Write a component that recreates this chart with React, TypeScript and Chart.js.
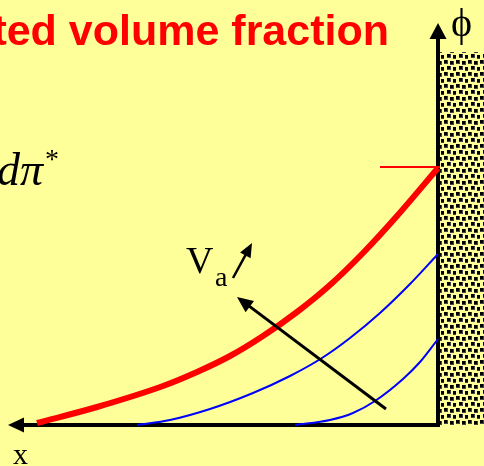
import React, { useEffect, useRef } from "react";
import { Chart, registerables } from "chart.js";

Chart.register(...registerables);

// Horizontal coordinate: distance from the wall; vertical: volume fraction φ.
const redCurveX = [401, 341, 275, 241, 208, 175, 141, 108, 75, 41, 0];
const redCurveY = [2, 18, 39, 53, 69, 89, 113, 140, 172, 209, 257];
const blueCurve1X = [301, 268, 228, 185, 148, 116, 88, 58, 28, 0];
const blueCurve1Y = [0, 5, 16, 32, 49, 67, 87, 112, 141, 171];
const blueCurve2X = [143, 108, 85, 63, 35, 18, 0];
const blueCurve2Y = [0, 5, 12, 24, 46, 63, 86];
const interfaceX = [58, -46];
const interfaceY = [258, 258];
const wallX = [-2, -46];
const wallY = [373, 373];
const axisX = [430, 0, 0]; // x-axis tip, origin, y-axis tip
const axisY = [0, 0, 402];
const flowArrowX = [52, 201]; // tail, tip
const flowArrowY = [16, 128];
const speedArrowX = [205, 186];
const speedArrowY = [147, 182];

const titleText = "Integrated volume fraction";
const phiLabel = "ϕ";
const xLabel = "x";
const velocityLabel = "V";
const velocitySub = "a";
const measureLabel = "dπ";
const measureSup = "*";

const pts = (xs: number[], ys: number[]) => xs.map((x, i) => ({ x, y: ys[i] }));

function makeWallPattern(ctx: CanvasRenderingContext2D): CanvasPattern | string {
  const n = 12;
  const tile = document.createElement("canvas");
  tile.width = n;
  tile.height = n;
  const t = tile.getContext("2d");
  if (!t) return "#888";
  t.fillStyle = "#FFFF99";
  t.fillRect(0, 0, n, n);
  const squares = [
    [0, 0],
    [6, 1],
    [3, 6],
    [9, 7],
  ];
  squares.forEach(([x, y]) => {
    t.fillStyle = "#444";
    t.fillRect(x, y, 4, 4);
    t.fillStyle = "#000";
    t.fillRect(x, y, 3, 3);
  });
  return ctx.createPattern(tile, "repeat") || "#888";
}

function arrow(
  ctx: CanvasRenderingContext2D,
  x1: number,
  y1: number,
  x2: number,
  y2: number,
  lw: number,
  headLen: number,
  headHalf: number
) {
  const ang = Math.atan2(y2 - y1, x2 - x1);
  const bx = x2 - Math.cos(ang) * headLen;
  const by = y2 - Math.sin(ang) * headLen;
  ctx.save();
  ctx.strokeStyle = "#000";
  ctx.fillStyle = "#000";
  ctx.lineWidth = lw;
  ctx.beginPath();
  ctx.moveTo(x1, y1);
  ctx.lineTo(bx + Math.cos(ang) * 2, by + Math.sin(ang) * 2);
  ctx.stroke();
  ctx.beginPath();
  ctx.moveTo(x2, y2);
  ctx.lineTo(bx - Math.sin(ang) * headHalf, by + Math.cos(ang) * headHalf);
  ctx.lineTo(bx + Math.sin(ang) * headHalf, by - Math.cos(ang) * headHalf);
  ctx.closePath();
  ctx.fill();
  ctx.restore();
}

const decorPlugin = {
  id: "decor",
  beforeDraw(chart: any) {
    const { ctx, width, height } = chart;
    ctx.save();
    ctx.fillStyle = "#FFFF99";
    ctx.fillRect(0, 0, width, height);
    ctx.restore();
  },
  beforeDatasetsDraw(chart: any) {
    const { ctx } = chart;
    const xs = chart.scales.x;
    const ys = chart.scales.y;
    const px = (v: number) => xs.getPixelForValue(v);
    const py = (v: number) => ys.getPixelForValue(v);
    const ox = px(axisX[1]);
    const oy = py(axisY[1]);
    // axes with arrowheads
    ctx.save();
    ctx.strokeStyle = "#000";
    ctx.lineWidth = 4;
    ctx.lineCap = "square";
    ctx.beginPath();
    ctx.moveTo(ox, oy);
    ctx.lineTo(px(axisX[0]) + 14, oy);
    ctx.moveTo(ox, oy);
    ctx.lineTo(ox, py(axisY[2]) + 14);
    ctx.stroke();
    ctx.restore();
    arrow(ctx, ox, oy, px(axisX[0]), oy, 4, 16, 7.5);
    arrow(ctx, ox, oy, ox, py(axisY[2]), 4, 16, 8.5);
  },
  afterDatasetsDraw(chart: any) {
    const { ctx } = chart;
    const xs = chart.scales.x;
    const ys = chart.scales.y;
    const px = (v: number) => xs.getPixelForValue(v);
    const py = (v: number) => ys.getPixelForValue(v);
    arrow(ctx, px(flowArrowX[0]), py(flowArrowY[0]), px(flowArrowX[1]), py(flowArrowY[1]), 3, 16, 7);
    arrow(ctx, px(speedArrowX[0]), py(speedArrowY[0]), px(speedArrowX[1]), py(speedArrowY[1]), 2.5, 14, 6);
  },
  afterDraw(chart: any) {
    const { ctx } = chart;
    ctx.save();
    ctx.textBaseline = "alphabetic";
    ctx.fillStyle = "#FF0000";
    ctx.font = "bold 43px 'Liberation Sans', Arial, sans-serif";
    ctx.textAlign = "right";
    ctx.fillText(titleText, 389, 45);

    ctx.fillStyle = "#000";
    ctx.textAlign = "left";
    ctx.font = "40px 'Liberation Serif', 'DejaVu Serif', serif";
    ctx.fillText(phiLabel, 451, 36);
    ctx.font = "30px 'Liberation Serif', 'Times New Roman', serif";
    ctx.fillText(xLabel, 13, 464);
    ctx.font = "38px 'Liberation Serif', 'Times New Roman', serif";
    ctx.fillText(velocityLabel, 186, 273);
    ctx.font = "28px 'Liberation Serif', 'Times New Roman', serif";
    ctx.fillText(velocitySub, 215, 286);

    ctx.font = "italic 46px 'Liberation Serif', 'Times New Roman', serif";
    ctx.textAlign = "right";
    ctx.fillText(measureLabel, 43, 185);
    ctx.textAlign = "left";
    ctx.font = "28px 'Liberation Serif', 'Times New Roman', serif";
    ctx.fillText(measureSup, 45, 168);
    ctx.restore();
  },
};

export default function App() {
  const canvasRef = useRef<HTMLCanvasElement | null>(null);

  useEffect(() => {
    const canvas = canvasRef.current;
    if (!canvas) return;
    const ctx = canvas.getContext("2d");
    if (!ctx) return;
    const wallPattern = makeWallPattern(ctx);
    const base = {
      pointRadius: 0,
      pointHoverRadius: 0,
      showLine: true,
      cubicInterpolationMode: "monotone" as const,
    };

    const chart = new Chart(ctx, {
      type: "line",
      data: {
        datasets: [
          {
            ...base,
            label: "wall",
            data: pts(wallX, wallY),
            borderWidth: 0,
            borderColor: "rgba(0,0,0,0)",
            backgroundColor: wallPattern as any,
            fill: "origin",
          },
          {
            ...base,
            label: "interface",
            data: pts(interfaceX, interfaceY),
            borderColor: "#FF0000",
            borderWidth: 2,
            fill: false,
          },
          {
            ...base,
            label: "φ2",
            data: pts(blueCurve2X, blueCurve2Y),
            borderColor: "#0000FF",
            borderWidth: 2,
            fill: false,
          },
          {
            ...base,
            label: "φ1",
            data: pts(blueCurve1X, blueCurve1Y),
            borderColor: "#0000FF",
            borderWidth: 2,
            fill: false,
          },
          {
            ...base,
            label: "φ",
            data: pts(redCurveX, redCurveY),
            borderColor: "#FF0000",
            borderWidth: 6,
            fill: false,
          },
        ],
      },
      options: {
        animation: false,
        responsive: false,
        devicePixelRatio: 1,
        layout: { padding: 0 },
        events: [],
        plugins: {
          legend: { display: false },
          tooltip: { enabled: false },
          title: { display: false },
        },
        scales: {
          x: { type: "linear", min: -46, max: 438, reverse: true, display: false },
          y: { type: "linear", min: -41, max: 425, display: false },
        },
      },
      plugins: [decorPlugin],
    });
    return () => chart.destroy();
  }, []);

  return (
    <div style={{ position: "fixed", left: 0, top: 0, width: 484, height: 466 }}>
      <canvas ref={canvasRef} width={484} height={466} style={{ display: "block" }} />
    </div>
  );
}
